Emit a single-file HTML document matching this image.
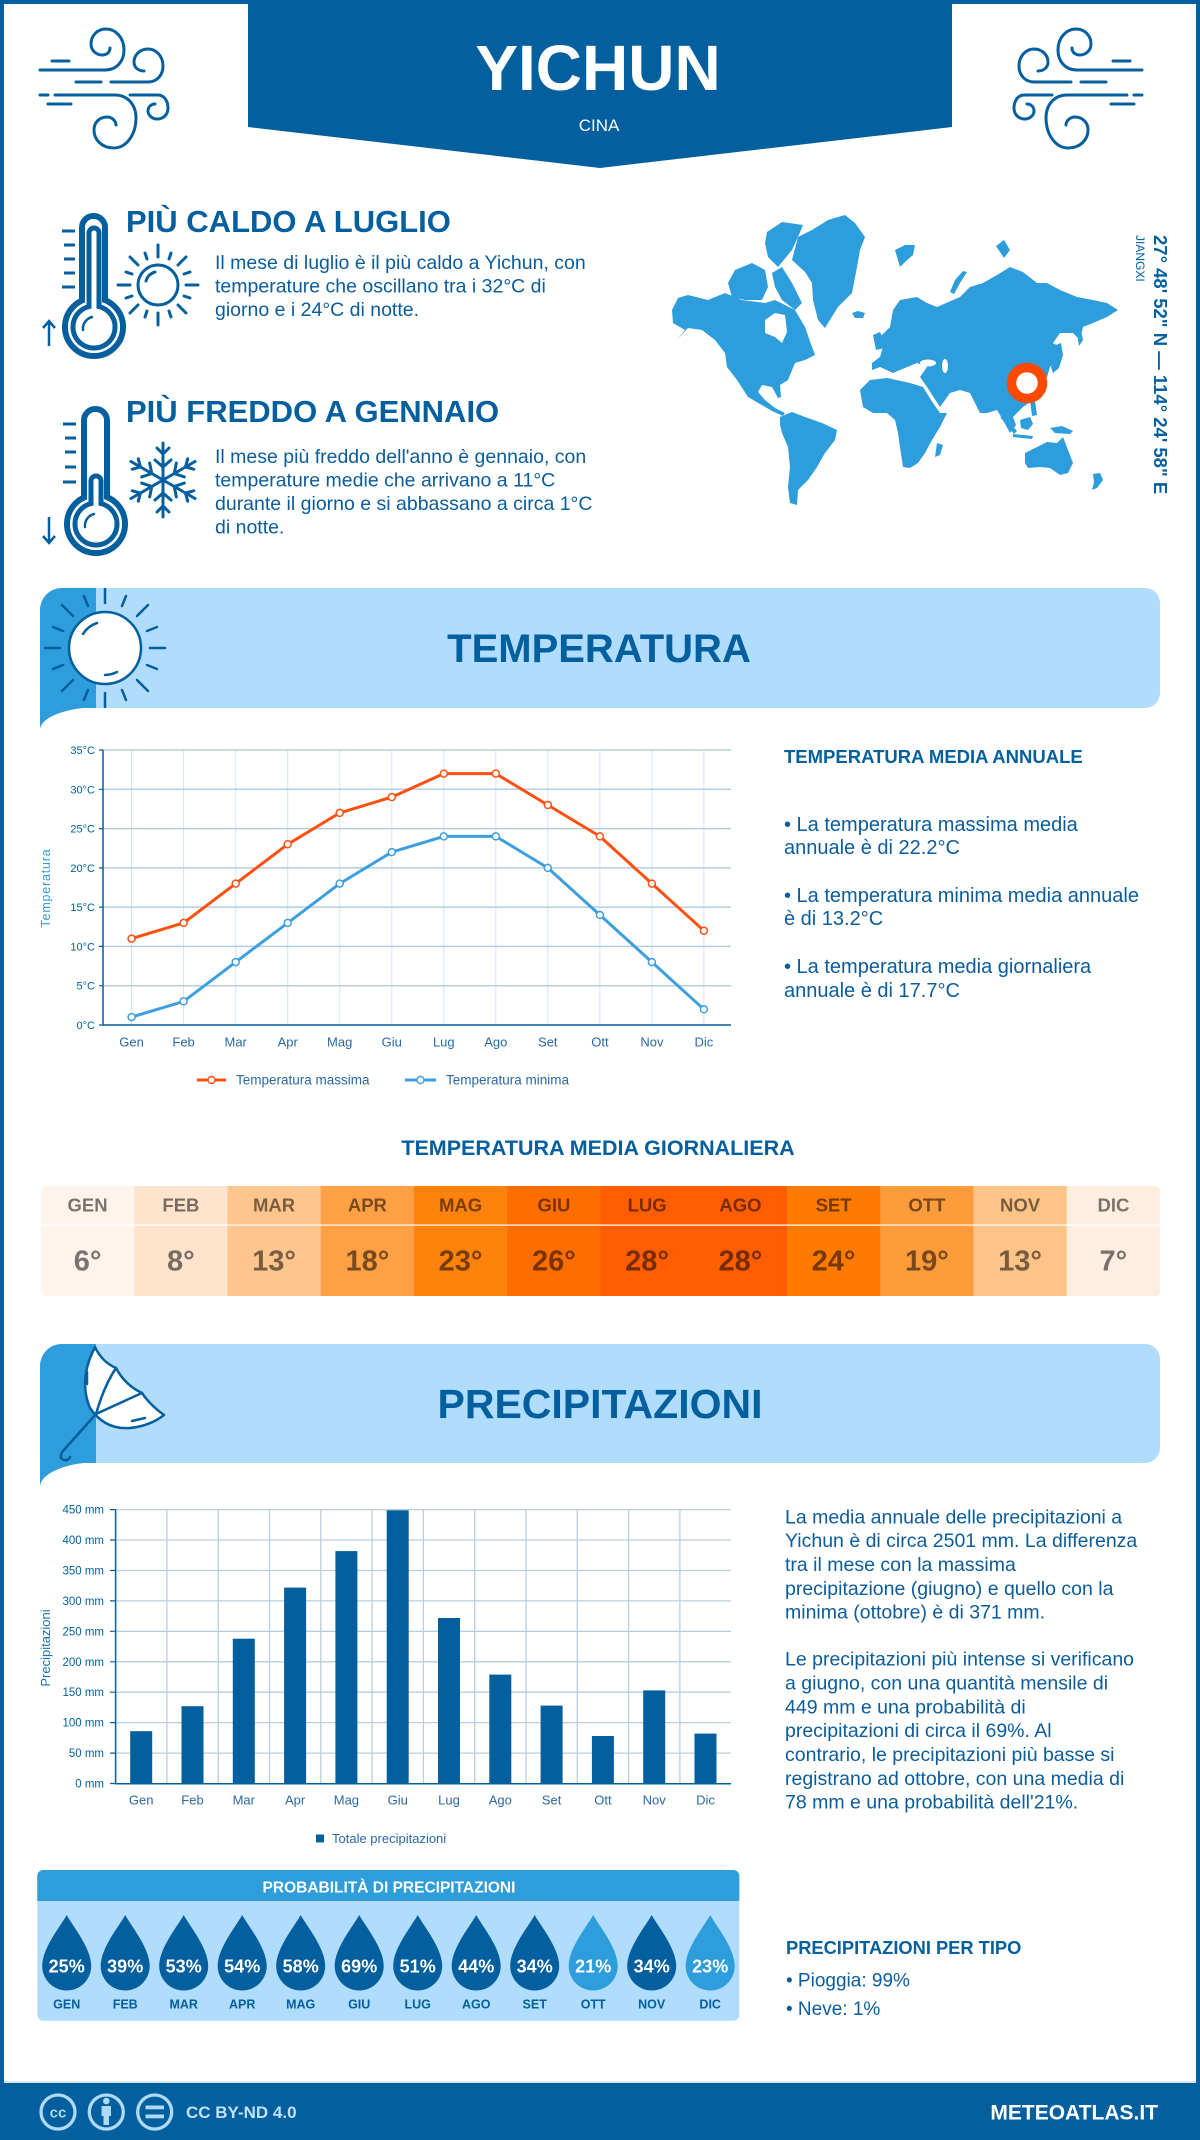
<!DOCTYPE html>
<html><head><meta charset="utf-8"><style>
html,body{margin:0;padding:0;background:#fff;}
svg{display:block;}
text{font-family:"Liberation Sans",Arial,sans-serif;}
</style></head><body>
<svg width="1200" height="2140" viewBox="0 0 1200 2140" xmlns="http://www.w3.org/2000/svg">
<defs>
<clipPath id="tb"><rect x="40" y="588" width="1120" height="120"/></clipPath>
<clipPath id="pb"><rect x="40" y="1344" width="1120" height="119"/></clipPath>
<clipPath id="tab"><rect x="41" y="1186" width="1119" height="110" rx="5"/></clipPath>
</defs>
<!-- frame -->
<rect x="0" y="0" width="1200" height="2140" fill="#035f9e"/>
<rect x="4" y="4" width="1192" height="2079" fill="#fff"/>
<rect x="4" y="2081" width="1192" height="2" fill="#dbe4ec"/>

<!-- header banner -->
<polygon points="248,0 952,0 952,127 600,168 248,127" fill="#035f9e"/>
<text x="598" y="90" font-size="64" font-weight="bold" fill="#fff" text-anchor="middle">YICHUN</text>
<text x="599" y="131" font-size="17" fill="#fff" text-anchor="middle">CINA</text>

<!-- wind icons -->
<g fill="none" stroke="#035f9e" stroke-width="3" stroke-linecap="round">
<path d="M40,70 H105 C117,70 124,61 124,50 C124,38 116,29 106,29 C97,29 91,36 91,44 C91,51 97,55 102,55 C107,55 110,52 110,48"/>
<path d="M111,82 H148 C157,82 163,75 163,66 C163,56 156,49 148,49 C140,49 134,55 134,62 C134,68 139,71 144,71"/>
<path d="M52,61 H69 M76,82 H101 M40,95 H48 M48,104 H71"/>
<path d="M55,95 H115 C127,95 136,104 136,118 C136,135 126,148 114,148 C102,148 94,140 94,130 C94,122 100,117 107,117 C112,117 116,121 116,125"/>
<path d="M130,95 H158 C164,95 168,101 168,108 C168,115 163,119 157,119 C152,119 148,115 148,111 C148,107 151,104 155,104"/>
</g>
<g transform="translate(1182,0) scale(-1,1)" fill="none" stroke="#035f9e" stroke-width="3" stroke-linecap="round">
<path d="M40,70 H105 C117,70 124,61 124,50 C124,38 116,29 106,29 C97,29 91,36 91,44 C91,51 97,55 102,55 C107,55 110,52 110,48"/>
<path d="M111,82 H148 C157,82 163,75 163,66 C163,56 156,49 148,49 C140,49 134,55 134,62 C134,68 139,71 144,71"/>
<path d="M52,61 H69 M76,82 H101 M40,95 H48 M48,104 H71"/>
<path d="M55,95 H115 C127,95 136,104 136,118 C136,135 126,148 114,148 C102,148 94,140 94,130 C94,122 100,117 107,117 C112,117 116,121 116,125"/>
<path d="M130,95 H158 C164,95 168,101 168,108 C168,115 163,119 157,119 C152,119 148,115 148,111 C148,107 151,104 155,104"/>
</g>

<!-- hot thermometer -->
<g>
<rect x="82" y="216" width="23" height="100" rx="11.5" fill="#fff" stroke="#035f9e" stroke-width="6"/>
<circle cx="94" cy="327" r="29" fill="#fff" stroke="#035f9e" stroke-width="6"/>
<rect x="85" y="219" width="17" height="100" rx="8.5" fill="#fff"/>
<circle cx="94" cy="327" r="26" fill="#fff"/>
<rect x="89" y="228" width="10" height="90" rx="5" fill="#fff" stroke="#035f9e" stroke-width="5"/>
<circle cx="94" cy="327" r="21" fill="#fff" stroke="#035f9e" stroke-width="5"/>
<rect x="91.5" y="230.5" width="5" height="90" rx="2.5" fill="#fff"/>
<circle cx="94" cy="327" r="18.5" fill="#fff"/>
<path d="M83,330 A12,12 0 0 1 92,317" fill="none" stroke="#035f9e" stroke-width="2.5" stroke-linecap="round"/>
<path d="M62,231 H75 M64,245 H75 M64,259 H75 M64,273 H75 M62,287 H75" stroke="#035f9e" stroke-width="3"/>
<path d="M49,346 V322 M43,328 L49,321 L55,328" fill="none" stroke="#035f9e" stroke-width="2.5"/>
</g>
<!-- sun small -->
<g transform="translate(158,285)" stroke="#035f9e" stroke-width="3" fill="none" stroke-linecap="round">
<circle r="20"/>
<path d="M-12,-4 A13,13 0 0 1 -3,-13"/>
<path d="M0,-28 V-40 M0,28 V40 M-28,0 H-40 M28,0 H40 M20,-20 L28,-28 M-20,-20 L-28,-28 M20,20 L28,28 M-20,20 L-28,28"/>
<path d="M11,-26 L13,-32 M-11,-26 L-13,-32 M11,26 L13,32 M-11,26 L-13,32 M26,11 L32,13 M26,-11 L32,-13 M-26,11 L-32,13 M-26,-11 L-32,-13"/>
</g>
<text x="126" y="232" font-size="31" font-weight="bold" fill="#035f9e">PIÙ CALDO A LUGLIO</text>
<g font-size="19.5" fill="#0b5c9c">
<text x="215" y="269">Il mese di luglio è il più caldo a Yichun, con</text>
<text x="215" y="292.5">temperature che oscillano tra i 32°C di</text>
<text x="215" y="316">giorno e i 24°C di notte.</text>
</g>

<!-- cold thermometer -->
<g>
<rect x="84" y="409" width="23" height="100" rx="11.5" fill="#fff" stroke="#035f9e" stroke-width="6"/>
<circle cx="96" cy="524" r="29" fill="#fff" stroke="#035f9e" stroke-width="6"/>
<rect x="87" y="412" width="17" height="100" rx="8.5" fill="#fff"/>
<circle cx="96" cy="524" r="26" fill="#fff"/>
<rect x="91" y="476" width="10" height="40" rx="5" fill="#fff" stroke="#035f9e" stroke-width="5"/>
<circle cx="96" cy="524" r="21" fill="#fff" stroke="#035f9e" stroke-width="5"/>
<rect x="93.5" y="478.5" width="5" height="40" rx="2.5" fill="#fff"/>
<circle cx="96" cy="524" r="18.5" fill="#fff"/>
<path d="M85,527 A12,12 0 0 1 94,514" fill="none" stroke="#035f9e" stroke-width="2.5" stroke-linecap="round"/>
<path d="M63,424 H76 M65,438 H76 M65,452 H76 M65,467 H76 M63,482 H76" stroke="#035f9e" stroke-width="3"/>
<path d="M49,517 V543 M43,536 L49,543 L55,536" fill="none" stroke="#035f9e" stroke-width="2.5"/>
</g>
<!-- snowflake -->
<g transform="translate(163,480)" stroke="#035f9e" stroke-width="3" fill="none" stroke-linecap="round">
<g><path d="M0,0 V-37 M-6,-32 L0,-26 L6,-32 M-8,-20 L0,-13 L8,-20"/></g>
<g transform="rotate(60)"><path d="M0,0 V-37 M-6,-32 L0,-26 L6,-32 M-8,-20 L0,-13 L8,-20"/></g>
<g transform="rotate(120)"><path d="M0,0 V-37 M-6,-32 L0,-26 L6,-32 M-8,-20 L0,-13 L8,-20"/></g>
<g transform="rotate(180)"><path d="M0,0 V-37 M-6,-32 L0,-26 L6,-32 M-8,-20 L0,-13 L8,-20"/></g>
<g transform="rotate(240)"><path d="M0,0 V-37 M-6,-32 L0,-26 L6,-32 M-8,-20 L0,-13 L8,-20"/></g>
<g transform="rotate(300)"><path d="M0,0 V-37 M-6,-32 L0,-26 L6,-32 M-8,-20 L0,-13 L8,-20"/></g>
</g>
<text x="126" y="422" font-size="31" font-weight="bold" fill="#035f9e">PIÙ FREDDO A GENNAIO</text>
<g font-size="19.5" fill="#0b5c9c">
<text x="215" y="463">Il mese più freddo dell'anno è gennaio, con</text>
<text x="215" y="486.5">temperature medie che arrivano a 11°C</text>
<text x="215" y="510">durante il giorno e si abbassano a circa 1°C</text>
<text x="215" y="533.5">di notte.</text>
</g>

<!-- world map -->
<g fill="#2e9ddc">
<!-- North America -->
<polygon points="672,310 678,298 688,295 708,300 725,293 742,300 765,303 775,300 795,310 805,327 812,347 815,355 805,360 795,363 788,380 780,385 781,397 778,398 772,387 762,385 758,392 765,400 775,408 785,413 783,416 772,411 760,404 748,397 737,380 727,367 725,353 715,340 702,330 688,328 677,340 685,330 673,323"/>
<!-- arctic archipelago -->
<polygon points="767,232 782,222 803,225 798,237 792,250 778,267 768,257 765,243"/>
<polygon points="772,273 782,267 792,283 802,303 795,310 782,300 775,287"/>
<polygon points="728,283 735,270 752,263 765,270 768,287 762,300 745,300 732,297"/>
<!-- Greenland -->
<polygon points="792,260 798,237 812,230 828,220 845,215 855,223 865,237 860,250 857,267 852,293 838,307 828,323 825,328 818,320 813,300 812,283 805,272"/>
<!-- Iceland -->
<polygon points="852,313 858,311 865,313 863,318 855,318"/>
<!-- Svalbard -->
<polygon points="895,250 905,245 915,245 913,255 905,262 900,267"/>
<!-- Novaya Zemlya -->
<polygon points="950,292 955,280 963,271 967,272 960,283 954,294"/>
<polygon points="996,246 1004,240 1010,250 1004,258"/>
<!-- Eurasia -->
<polygon points="893,310 900,300 917,297 927,303 937,307 960,297 970,287 983,283 997,275 1010,267 1023,272 1037,283 1047,283 1060,290 1077,297 1093,300 1107,303 1118,310 1107,317 1093,323 1083,327 1080,340 1073,333 1060,333 1053,343 1060,347 1060,357 1050,367 1047,377 1040,387 1033,400 1023,407 1017,413 1013,417 1016,425 1010,433 1003,420 997,410 987,413 980,413 970,393 960,390 950,393 940,407 927,387 920,377 927,367 917,363 900,370 893,373 880,367 872,370 872,363 880,357 883,347 877,340 887,330 890,327"/>
<ellipse cx="928" cy="363" rx="8" ry="3.5" fill="#fff"/>
<ellipse cx="945" cy="366" rx="3" ry="7" fill="#fff"/>
<!-- UK -->
<polygon points="873,335 880,332 884,340 885,348 876,350"/>
<!-- Africa -->
<polygon points="860,390 870,380 887,378 910,383 923,387 933,403 940,413 947,413 940,427 932,440 925,453 918,463 910,468 903,467 900,447 898,433 895,420 887,413 873,413 863,407"/>
<polygon points="937,443 943,445 940,455 935,457"/>
<!-- South America -->
<polygon points="780,417 792,412 805,417 822,423 837,430 835,440 825,453 817,467 808,480 798,490 797,505 790,503 788,487 790,467 788,447 782,433 780,425"/>
<!-- Australia -->
<polygon points="1025,453 1037,447 1047,442 1057,443 1063,437 1068,450 1073,463 1068,473 1060,475 1050,468 1040,467 1028,468 1025,463"/>
<!-- Asia islands -->
<polygon points="1056,345 1061,343 1063,355 1059,368 1053,373 1051,367 1056,358"/>
<polygon points="1076,327 1080,326 1083,340 1079,346"/>
<polygon points="1000,417 1005,418 1017,431 1014,434"/>
<polygon points="1020,420 1030,417 1033,424 1028,430 1021,428"/>
<polygon points="1013,434 1033,436 1032,439 1013,437"/>
<polygon points="1050,428 1062,426 1073,431 1070,434 1055,433"/>
<polygon points="1030,400 1035,401 1037,415 1032,416"/>
<polygon points="1093,474 1100,473 1103,480 1097,488 1092,490 1094,482"/>
</g>
<polygon points="765,320 775,313 785,315 787,332 782,343 775,337 765,333" fill="#fff"/>
<circle cx="1027" cy="383" r="15.5" fill="#fff" stroke="#ff4800" stroke-width="9.5"/>
<text transform="translate(1154,235) rotate(90)" font-size="18.5" font-weight="bold" fill="#035f9e">27° 48' 52" N — 114° 24' 58" E</text>
<text transform="translate(1136,235) rotate(90)" font-size="12" fill="#035f9e">JIANGXI</text>

<!-- temperature banner -->
<path d="M62,588 H1145 A15,15 0 0 1 1160,603 V693 A15,15 0 0 1 1145,708 H40 V610 A22,22 0 0 1 62,588 Z" fill="#b0dcfd"/>
<path d="M62,588 H96 V708 H40 V610 A22,22 0 0 1 62,588 Z" fill="#2e9ddc"/>
<path d="M40,707 H100 A60,23 0 0 0 40,731 Z" fill="#2e9ddc"/>
<g clip-path="url(#tb)" stroke="#035f9e" stroke-width="2.5" stroke-linecap="round" fill="none">
<g transform="translate(105,648)">
<path d="M0,-45 V-62 M0,45 V62 M-45,0 H-60 M45,0 H60 M32,-32 L43,-43 M-32,-32 L-43,-43 M32,32 L43,43 M-32,32 L-43,43"/>
<path d="M17,-42 L21,-52 M-17,-42 L-21,-52 M17,42 L21,52 M-17,42 L-21,52 M42,17 L52,21 M42,-17 L52,-21 M-42,17 L-52,21 M-42,-17 L-52,-21"/>
<circle r="36" fill="#fff"/>
<path d="M-22,-14 A26,26 0 0 1 -8,-25"/>
<path d="M12,24 A27,27 0 0 1 0,27"/>
</g>
</g>
<text x="599" y="662" font-size="40" font-weight="bold" fill="#035f9e" text-anchor="middle">TEMPERATURA</text>

<!-- temperature chart -->
<g stroke="#d2e4f3" stroke-width="1">
<path d="M131.6,750 V1025 M183.6,750 V1025 M235.7,750 V1025 M287.7,750 V1025 M339.7,750 V1025 M391.8,750 V1025 M443.8,750 V1025 M495.8,750 V1025 M547.8,750 V1025 M599.9,750 V1025 M651.9,750 V1025 M703.9,750 V1025"/>
</g>
<g stroke="#b4cde0" stroke-width="1.5">
<path d="M103,750 H731 M103,789.3 H731 M103,828.6 H731 M103,867.9 H731 M103,907.1 H731 M103,946.4 H731 M103,985.7 H731"/>
</g>
<path d="M103,750 V1025 H731" fill="none" stroke="#035f9e" stroke-width="1.5"/>
<path d="M99,750 H103 M99,789.3 H103 M99,828.6 H103 M99,867.9 H103 M99,907.1 H103 M99,946.4 H103 M99,985.7 H103 M99,1025 H103" stroke="#035f9e" stroke-width="1.2"/>
<g font-size="11" fill="#035f9e" text-anchor="end">
<text x="95" y="754">35°C</text><text x="95" y="793.3">30°C</text><text x="95" y="832.6">25°C</text><text x="95" y="871.9">20°C</text><text x="95" y="911.1">15°C</text><text x="95" y="950.4">10°C</text><text x="95" y="989.7">5°C</text><text x="95" y="1029">0°C</text>
</g>
<text transform="translate(50,888) rotate(-90)" font-size="12.5" letter-spacing="0.8" fill="#3a9ad9" text-anchor="middle">Temperatura</text>
<g font-size="13" fill="#2a68a6" text-anchor="middle">
<text x="131.6" y="1046.5">Gen</text><text x="183.6" y="1046.5">Feb</text><text x="235.7" y="1046.5">Mar</text><text x="287.7" y="1046.5">Apr</text><text x="339.7" y="1046.5">Mag</text><text x="391.8" y="1046.5">Giu</text><text x="443.8" y="1046.5">Lug</text><text x="495.8" y="1046.5">Ago</text><text x="547.8" y="1046.5">Set</text><text x="599.9" y="1046.5">Ott</text><text x="651.9" y="1046.5">Nov</text><text x="703.9" y="1046.5">Dic</text>
</g>
<polyline points="131.6,938.6 183.6,922.9 235.7,883.6 287.7,844.3 339.7,812.9 391.8,797.1 443.8,773.6 495.8,773.6 547.8,805 599.9,836.4 651.9,883.6 703.9,930.7" fill="none" stroke="#fe5010" stroke-width="3" stroke-linejoin="round"/>
<polyline points="131.6,1017.1 183.6,1001.4 235.7,962.1 287.7,922.9 339.7,883.6 391.8,852.1 443.8,836.4 495.8,836.4 547.8,867.9 599.9,915 651.9,962.1 703.9,1009.3" fill="none" stroke="#3d9fe0" stroke-width="3" stroke-linejoin="round"/>
<g fill="#fff" stroke="#fe5010" stroke-width="1.5">
<circle cx="131.6" cy="938.6" r="3.5"/><circle cx="183.6" cy="922.9" r="3.5"/><circle cx="235.7" cy="883.6" r="3.5"/><circle cx="287.7" cy="844.3" r="3.5"/><circle cx="339.7" cy="812.9" r="3.5"/><circle cx="391.8" cy="797.1" r="3.5"/><circle cx="443.8" cy="773.6" r="3.5"/><circle cx="495.8" cy="773.6" r="3.5"/><circle cx="547.8" cy="805" r="3.5"/><circle cx="599.9" cy="836.4" r="3.5"/><circle cx="651.9" cy="883.6" r="3.5"/><circle cx="703.9" cy="930.7" r="3.5"/>
</g>
<g fill="#fff" stroke="#3d9fe0" stroke-width="1.5">
<circle cx="131.6" cy="1017.1" r="3.5"/><circle cx="183.6" cy="1001.4" r="3.5"/><circle cx="235.7" cy="962.1" r="3.5"/><circle cx="287.7" cy="922.9" r="3.5"/><circle cx="339.7" cy="883.6" r="3.5"/><circle cx="391.8" cy="852.1" r="3.5"/><circle cx="443.8" cy="836.4" r="3.5"/><circle cx="495.8" cy="836.4" r="3.5"/><circle cx="547.8" cy="867.9" r="3.5"/><circle cx="599.9" cy="915" r="3.5"/><circle cx="651.9" cy="962.1" r="3.5"/><circle cx="703.9" cy="1009.3" r="3.5"/>
</g>
<!-- legend -->
<path d="M197,1080 H226" stroke="#fe5010" stroke-width="3"/>
<circle cx="211.5" cy="1080" r="3.5" fill="#fff" stroke="#fe5010" stroke-width="1.5"/>
<text x="236" y="1084.5" font-size="13.5" fill="#2a68a6">Temperatura massima</text>
<path d="M405,1080 H436" stroke="#3d9fe0" stroke-width="3"/>
<circle cx="420.5" cy="1080" r="3.5" fill="#fff" stroke="#3d9fe0" stroke-width="1.5"/>
<text x="446" y="1084.5" font-size="13.5" fill="#2a68a6">Temperatura minima</text>

<!-- temp right text -->
<text x="784" y="763" font-size="18.5" font-weight="bold" fill="#035f9e">TEMPERATURA MEDIA ANNUALE</text>
<g font-size="20" fill="#0b5c9c">
<text x="784" y="831">• La temperatura massima media</text>
<text x="784" y="854">annuale è di 22.2°C</text>
<text x="784" y="902">• La temperatura minima media annuale</text>
<text x="784" y="925">è di 13.2°C</text>
<text x="784" y="973">• La temperatura media giornaliera</text>
<text x="784" y="997">annuale è di 17.7°C</text>
</g>

<!-- daily mean table -->
<text x="598" y="1155" font-size="21.5" font-weight="bold" fill="#035f9e" text-anchor="middle">TEMPERATURA MEDIA GIORNALIERA</text>
<g clip-path="url(#tab)">
<rect x="41" y="1186" width="94" height="110" fill="#fef4ec"/>
<rect x="134.25" y="1186" width="94" height="110" fill="#fee4cc"/>
<rect x="227.5" y="1186" width="94" height="110" fill="#fec58c"/>
<rect x="320.75" y="1186" width="94" height="110" fill="#fea043"/>
<rect x="414" y="1186" width="94" height="110" fill="#fe820b"/>
<rect x="507.25" y="1186" width="94" height="110" fill="#fe6d00"/>
<rect x="600.5" y="1186" width="94" height="110" fill="#fe5e00"/>
<rect x="693.75" y="1186" width="94" height="110" fill="#fe5d00"/>
<rect x="787" y="1186" width="94" height="110" fill="#fe7a00"/>
<rect x="880.25" y="1186" width="94" height="110" fill="#fe9b3b"/>
<rect x="973.5" y="1186" width="94" height="110" fill="#fec387"/>
<rect x="1066.75" y="1186" width="94" height="110" fill="#feeee0"/>
<rect x="41" y="1224.5" width="1119" height="1.2" fill="#fff"/>
</g>
<g font-weight="bold" fill="#000" fill-opacity="0.53" text-anchor="middle">
<g font-size="18.5">
<text x="87.6" y="1211.5">GEN</text><text x="180.9" y="1211.5">FEB</text><text x="274.1" y="1211.5">MAR</text><text x="367.4" y="1211.5">APR</text><text x="460.6" y="1211.5">MAG</text><text x="553.9" y="1211.5">GIU</text><text x="647.1" y="1211.5">LUG</text><text x="740.4" y="1211.5">AGO</text><text x="833.6" y="1211.5">SET</text><text x="926.9" y="1211.5">OTT</text><text x="1020.1" y="1211.5">NOV</text><text x="1113.4" y="1211.5">DIC</text>
</g>
<g font-size="29">
<text x="87.6" y="1270.5">6°</text><text x="180.9" y="1270.5">8°</text><text x="274.1" y="1270.5">13°</text><text x="367.4" y="1270.5">18°</text><text x="460.6" y="1270.5">23°</text><text x="553.9" y="1270.5">26°</text><text x="647.1" y="1270.5">28°</text><text x="740.4" y="1270.5">28°</text><text x="833.6" y="1270.5">24°</text><text x="926.9" y="1270.5">19°</text><text x="1020.1" y="1270.5">13°</text><text x="1113.4" y="1270.5">7°</text>
</g>
</g>

<!-- precip banner -->
<path d="M62,1344 H1145 A15,15 0 0 1 1160,1359 V1448 A15,15 0 0 1 1145,1463 H40 V1366 A22,22 0 0 1 62,1344 Z" fill="#b0dcfd"/>
<path d="M62,1344 H96 V1463 H40 V1366 A22,22 0 0 1 62,1344 Z" fill="#2e9ddc"/>
<path d="M40,1462 H100 A60,25 0 0 0 40,1487 Z" fill="#2e9ddc"/>
<g clip-path="url(#pb)" stroke="#035f9e" stroke-width="2.5" fill="none" stroke-linecap="round" stroke-linejoin="round">
<path d="M95,1347 Q78,1380 90,1408 Q105,1430 130,1428 Q150,1426 164,1415 Q150,1405 142,1393 Q125,1385 116,1368 Q102,1362 95,1347 Z" fill="#fff"/>
<path d="M96,1414 Q104,1386 116,1368 M96,1414 Q122,1402 142,1393"/>
<path d="M87,1372 V1384 M132,1421 L145,1418"/>
<path d="M96,1414 L63,1451 Q58,1458 64,1460 Q68,1461 70,1457"/>
</g>
<text x="600" y="1418" font-size="41" font-weight="bold" fill="#035f9e" text-anchor="middle">PRECIPITAZIONI</text>

<!-- precip chart -->
<g stroke="#b8cfe1" stroke-width="1.3">
<path d="M166.9,1509.6 V1783.5 M218.2,1509.6 V1783.5 M269.5,1509.6 V1783.5 M320.8,1509.6 V1783.5 M372.1,1509.6 V1783.5 M423.4,1509.6 V1783.5 M474.7,1509.6 V1783.5 M526,1509.6 V1783.5 M577.3,1509.6 V1783.5 M628.6,1509.6 V1783.5 M679.9,1509.6 V1783.5"/>
<path d="M115.6,1509.6 H731 M115.6,1540 H731 M115.6,1570.5 H731 M115.6,1600.9 H731 M115.6,1631.3 H731 M115.6,1661.8 H731 M115.6,1692.2 H731 M115.6,1722.6 H731 M115.6,1753.1 H731"/>
</g>
<g fill="#035f9e">
<rect x="130.2" y="1731.2" width="22" height="52.3"/>
<rect x="181.5" y="1706.2" width="22" height="77.3"/>
<rect x="232.8" y="1638.7" width="22" height="144.8"/>
<rect x="284.1" y="1587.6" width="22" height="195.9"/>
<rect x="335.4" y="1551.1" width="22" height="232.4"/>
<rect x="386.7" y="1510.3" width="22" height="273.2"/>
<rect x="438" y="1618" width="22" height="165.5"/>
<rect x="489.3" y="1674.6" width="22" height="108.9"/>
<rect x="540.6" y="1705.6" width="22" height="77.9"/>
<rect x="591.9" y="1736" width="22" height="47.5"/>
<rect x="643.2" y="1690.4" width="22" height="93.1"/>
<rect x="694.5" y="1733.6" width="22" height="49.9"/>
</g>
<path d="M115.6,1509.6 V1783.8 H731" fill="none" stroke="#035f9e" stroke-width="1.5"/>
<path d="M110,1509.6 H115.6 M110,1540 H115.6 M110,1570.5 H115.6 M110,1600.9 H115.6 M110,1631.3 H115.6 M110,1661.8 H115.6 M110,1692.2 H115.6 M110,1722.6 H115.6 M110,1753.1 H115.6 M110,1783.5 H115.6" stroke="#035f9e" stroke-width="1.2"/>
<g font-size="11.5" fill="#035f9e" text-anchor="end">
<text x="104" y="1513.6">450 mm</text><text x="104" y="1544">400 mm</text><text x="104" y="1574.5">350 mm</text><text x="104" y="1604.9">300 mm</text><text x="104" y="1635.3">250 mm</text><text x="104" y="1665.8">200 mm</text><text x="104" y="1696.2">150 mm</text><text x="104" y="1726.6">100 mm</text><text x="104" y="1757.1">50 mm</text><text x="104" y="1787.5">0 mm</text>
</g>
<text transform="translate(50,1648) rotate(-90)" font-size="13" fill="#1f6fb2" text-anchor="middle">Precipitazioni</text>
<g font-size="13" fill="#2a68a6" text-anchor="middle">
<text x="141.2" y="1804.5">Gen</text><text x="192.5" y="1804.5">Feb</text><text x="243.8" y="1804.5">Mar</text><text x="295.1" y="1804.5">Apr</text><text x="346.4" y="1804.5">Mag</text><text x="397.7" y="1804.5">Giu</text><text x="449" y="1804.5">Lug</text><text x="500.3" y="1804.5">Ago</text><text x="551.6" y="1804.5">Set</text><text x="602.9" y="1804.5">Ott</text><text x="654.2" y="1804.5">Nov</text><text x="705.5" y="1804.5">Dic</text>
</g>
<rect x="316" y="1834.5" width="8" height="8" fill="#035f9e"/>
<text x="332" y="1843" font-size="13" fill="#2a68a6">Totale precipitazioni</text>

<!-- precip right text -->
<g font-size="19.5" fill="#0b5c9c">
<text x="785" y="1523.3">La media annuale delle precipitazioni a</text>
<text x="785" y="1547">Yichun è di circa 2501 mm. La differenza</text>
<text x="785" y="1571">tra il mese con la massima</text>
<text x="785" y="1594.8">precipitazione (giugno) e quello con la</text>
<text x="785" y="1618.6">minima (ottobre) è di 371 mm.</text>
<text x="785" y="1665.7">Le precipitazioni più intense si verificano</text>
<text x="785" y="1689.5">a giugno, con una quantità mensile di</text>
<text x="785" y="1713.3">449 mm e una probabilità di</text>
<text x="785" y="1737.1">precipitazioni di circa il 69%. Al</text>
<text x="785" y="1761">contrario, le precipitazioni più basse si</text>
<text x="785" y="1784.8">registrano ad ottobre, con una media di</text>
<text x="785" y="1808.6">78 mm e una probabilità dell'21%.</text>
</g>

<!-- probability box -->
<rect x="37.3" y="1870" width="702" height="150.7" rx="6" fill="#b0dcfd"/>
<path d="M43.3,1870 H733.3 A6,6 0 0 1 739.3,1876 V1901 H37.3 V1876 A6,6 0 0 1 43.3,1870 Z" fill="#2e9ddc"/>
<text x="389" y="1892.5" font-size="15.5" font-weight="bold" fill="#fff" text-anchor="middle">PROBABILITÀ DI PRECIPITAZIONI</text>
<g>
<path d="M66.7,1915 C72.7,1926 91.2,1948 91.2,1966 A24.5,24.5 0 0 1 42.2,1966 C42.2,1948 60.7,1926 66.7,1915 Z" fill="#035f9e"/>
<path d="M125.2,1915 C131.2,1926 149.7,1948 149.7,1966 A24.5,24.5 0 0 1 100.7,1966 C100.7,1948 119.2,1926 125.2,1915 Z" fill="#035f9e"/>
<path d="M183.7,1915 C189.7,1926 208.2,1948 208.2,1966 A24.5,24.5 0 0 1 159.2,1966 C159.2,1948 177.7,1926 183.7,1915 Z" fill="#035f9e"/>
<path d="M242.2,1915 C248.2,1926 266.7,1948 266.7,1966 A24.5,24.5 0 0 1 217.7,1966 C217.7,1948 236.2,1926 242.2,1915 Z" fill="#035f9e"/>
<path d="M300.7,1915 C306.7,1926 325.2,1948 325.2,1966 A24.5,24.5 0 0 1 276.2,1966 C276.2,1948 294.7,1926 300.7,1915 Z" fill="#035f9e"/>
<path d="M359.2,1915 C365.2,1926 383.7,1948 383.7,1966 A24.5,24.5 0 0 1 334.7,1966 C334.7,1948 353.2,1926 359.2,1915 Z" fill="#035f9e"/>
<path d="M417.7,1915 C423.7,1926 442.2,1948 442.2,1966 A24.5,24.5 0 0 1 393.2,1966 C393.2,1948 411.7,1926 417.7,1915 Z" fill="#035f9e"/>
<path d="M476.2,1915 C482.2,1926 500.7,1948 500.7,1966 A24.5,24.5 0 0 1 451.7,1966 C451.7,1948 470.2,1926 476.2,1915 Z" fill="#035f9e"/>
<path d="M534.7,1915 C540.7,1926 559.2,1948 559.2,1966 A24.5,24.5 0 0 1 510.2,1966 C510.2,1948 528.7,1926 534.7,1915 Z" fill="#035f9e"/>
<path d="M593.2,1915 C599.2,1926 617.7,1948 617.7,1966 A24.5,24.5 0 0 1 568.7,1966 C568.7,1948 587.2,1926 593.2,1915 Z" fill="#2e9ddc"/>
<path d="M651.7,1915 C657.7,1926 676.2,1948 676.2,1966 A24.5,24.5 0 0 1 627.2,1966 C627.2,1948 645.7,1926 651.7,1915 Z" fill="#035f9e"/>
<path d="M710.2,1915 C716.2,1926 734.7,1948 734.7,1966 A24.5,24.5 0 0 1 685.7,1966 C685.7,1948 704.2,1926 710.2,1915 Z" fill="#2e9ddc"/>
</g>
<g font-size="18" font-weight="bold" fill="#fff" text-anchor="middle">
<text x="66.7" y="1972.5">25%</text><text x="125.2" y="1972.5">39%</text><text x="183.7" y="1972.5">53%</text><text x="242.2" y="1972.5">54%</text><text x="300.7" y="1972.5">58%</text><text x="359.2" y="1972.5">69%</text><text x="417.7" y="1972.5">51%</text><text x="476.2" y="1972.5">44%</text><text x="534.7" y="1972.5">34%</text><text x="593.2" y="1972.5">21%</text><text x="651.7" y="1972.5">34%</text><text x="710.2" y="1972.5">23%</text>
</g>
<g font-size="12.5" font-weight="bold" fill="#035f9e" text-anchor="middle">
<text x="66.7" y="2008.5">GEN</text><text x="125.2" y="2008.5">FEB</text><text x="183.7" y="2008.5">MAR</text><text x="242.2" y="2008.5">APR</text><text x="300.7" y="2008.5">MAG</text><text x="359.2" y="2008.5">GIU</text><text x="417.7" y="2008.5">LUG</text><text x="476.2" y="2008.5">AGO</text><text x="534.7" y="2008.5">SET</text><text x="593.2" y="2008.5">OTT</text><text x="651.7" y="2008.5">NOV</text><text x="710.2" y="2008.5">DIC</text>
</g>

<!-- precip type -->
<text x="786" y="1954" font-size="18.3" font-weight="bold" fill="#035f9e">PRECIPITAZIONI PER TIPO</text>
<g font-size="19" fill="#0b5c9c">
<text x="786" y="1986.7">• Pioggia: 99%</text>
<text x="786" y="2015">• Neve: 1%</text>
</g>

<!-- footer -->
<g fill="none" stroke="#aed9f7" stroke-width="3.3">
<circle cx="58" cy="2112" r="17"/>
<circle cx="106.3" cy="2112" r="17"/>
<circle cx="154.7" cy="2112" r="17"/>
</g>
<text x="58" y="2117.5" font-size="15" font-weight="bold" fill="#aed9f7" text-anchor="middle">cc</text>
<circle cx="106.3" cy="2101" r="3.3" fill="#aed9f7"/>
<path d="M101.5,2106 H111 V2116 H109 V2125 H103.5 V2116 H101.5 Z" fill="#aed9f7"/>
<rect x="145.5" y="2105.5" width="18.5" height="3.8" fill="#aed9f7"/>
<rect x="145.5" y="2114.5" width="18.5" height="3.8" fill="#aed9f7"/>
<text x="186" y="2118" font-size="17" font-weight="bold" fill="#bfe2fa">CC BY-ND 4.0</text>
<text x="1158" y="2119.5" font-size="21" font-weight="bold" fill="#fff" text-anchor="end">METEOATLAS.IT</text>
</svg>
</body></html>
